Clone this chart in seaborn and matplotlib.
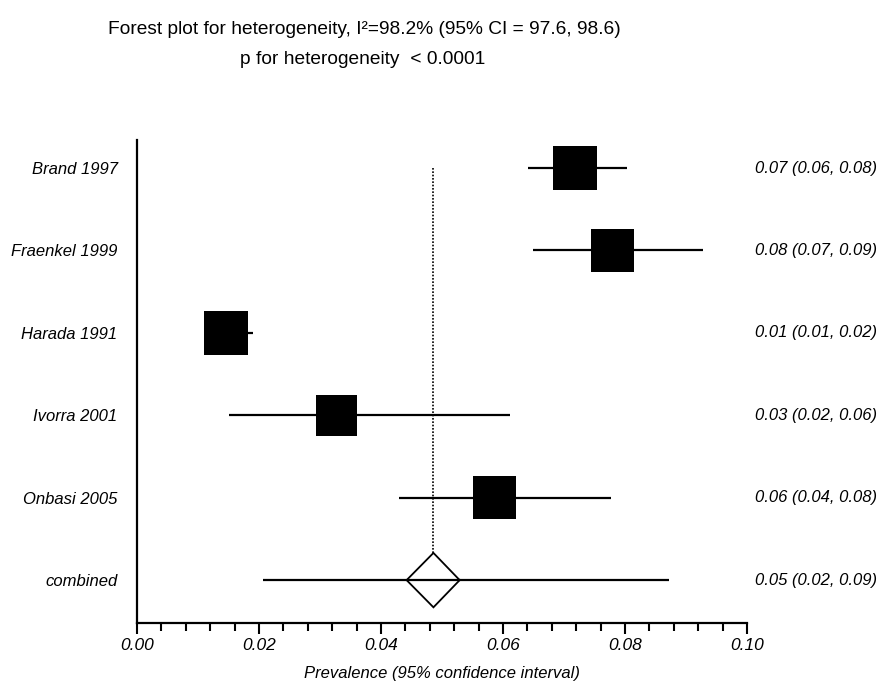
import matplotlib
matplotlib.use("Agg")
import numpy as np
import seaborn as sns
from matplotlib import pyplot as plt
from matplotlib import font_manager
from matplotlib.ticker import MultipleLocator, FormatStrFormatter

studies = ["Brand 1997", "Fraenkel 1999", "Harada 1991", "Ivorra 2001", "Onbasi 2005"]
estimates = [0.0718, 0.0780, 0.0146, 0.0327, 0.0586]
ci_low = [0.0641, 0.0649, 0.0110, 0.0150, 0.0430]
ci_high = [0.0803, 0.0928, 0.0190, 0.0612, 0.0777]
weights = [20.4, 19.8, 20.5, 18.9, 20.0]
text_ci = ["0.07 (0.06, 0.08)", "0.08 (0.07, 0.09)", "0.01 (0.01, 0.02)",
           "0.03 (0.02, 0.06)", "0.06 (0.04, 0.08)"]

combined_label = "combined"
combined_est = 0.0486
combined_low = 0.0207
combined_high = 0.0872
combined_diamond = (0.0442, 0.0529)
combined_text = "0.05 (0.02, 0.09)"

sns.set_style("ticks")
plt.rcParams["font.family"] = ["Liberation Sans", "DejaVu Sans"]
plt.rcParams["text.color"] = "black"
plt.rcParams["axes.labelcolor"] = "black"
plt.rcParams["xtick.color"] = "black"
plt.rcParams["ytick.color"] = "black"
plt.rcParams["axes.edgecolor"] = "black"

names = {f.name for f in font_manager.fontManager.ttflist}
title_font = "Liberation Sans Narrow" if "Liberation Sans Narrow" in names else "Liberation Sans"
title_size = 17 if title_font == "Liberation Sans Narrow" else 13.8

fig = plt.figure(figsize=(8.92, 6.81), dpi=100)
ax = fig.add_axes([0.1536, 0.0852, 0.6838, 0.7092])

rows = np.arange(len(studies))
comb_row = len(studies)

# CI lines
ax.hlines(rows, ci_low, ci_high, color="black", lw=1.6, zorder=2)
ax.hlines(comb_row, combined_low, combined_high, color="black", lw=1.6, zorder=2)

# squares sized by weight
sizes = [(w * 1.55) ** 2 for w in weights]
sns.scatterplot(x=estimates, y=rows, s=sizes, marker="s", color="black",
                edgecolor="black", linewidth=0, ax=ax, zorder=3, legend=False)

# combined diamond
dh = 0.33
ax.fill([combined_diamond[0], combined_est, combined_diamond[1], combined_est],
        [comb_row, comb_row - dh, comb_row, comb_row + dh],
        facecolor="white", edgecolor="black", lw=1.3, zorder=4)
ax.plot([combined_diamond[0], combined_diamond[1]], [comb_row, comb_row],
        color="black", lw=1.6, zorder=5)

# dotted reference line
ax.vlines(combined_est, 0, comb_row - dh, colors="black", linestyles=(0, (1, 1)),
          lw=1.2, zorder=1)

ax.set_xlim(0, 0.10)
ax.set_ylim(comb_row + 0.52, -0.34)
ax.xaxis.set_major_locator(MultipleLocator(0.02))
ax.xaxis.set_minor_locator(MultipleLocator(0.004))
ax.xaxis.set_major_formatter(FormatStrFormatter("%.2f"))
ax.tick_params(axis="x", which="major", length=8, width=1.5, labelsize=12.5,
               direction="out", pad=3)
ax.tick_params(axis="x", which="minor", length=6, width=1.5, direction="out")
for lab in ax.get_xticklabels():
    lab.set_fontstyle("italic")

ax.set_yticks(list(rows) + [comb_row])
ax.set_yticklabels(studies + [combined_label], fontsize=12, fontstyle="italic")
ax.tick_params(axis="y", length=0, pad=14)

for sp in ["top", "right"]:
    ax.spines[sp].set_visible(False)
ax.spines["left"].set_linewidth(1.6)
ax.spines["bottom"].set_linewidth(1.6)

for r, t in zip(list(rows) + [comb_row], text_ci + [combined_text]):
    ax.text(0.1013, r, t, fontsize=12, fontstyle="italic", va="center",
            ha="left", clip_on=False)

ax.set_xlabel("Prevalence (95% confidence interval)", fontsize=12,
              fontstyle="italic", labelpad=9)

fig.text(0.408, 0.957, "Forest plot for heterogeneity, I\u00b2=98.2% (95% CI = 97.6, 98.6)",
         ha="center", va="center", fontsize=title_size, family=[title_font, "DejaVu Sans"])
fig.text(0.406, 0.913, "p for heterogeneity  < 0.0001", ha="center", va="center",
         fontsize=title_size, family=[title_font, "DejaVu Sans"])

fig.savefig("out.png", dpi=100)
